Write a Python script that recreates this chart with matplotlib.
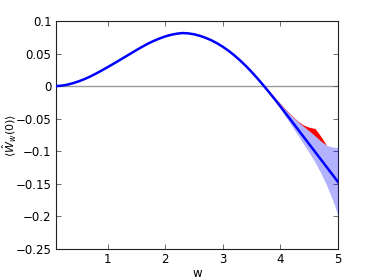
import matplotlib
matplotlib.use("Agg")
import matplotlib.pyplot as plt
from matplotlib.ticker import FuncFormatter, MultipleLocator

# w grid and estimated curve values
w = [0.1, 0.2, 0.3, 0.4, 0.5, 0.6, 0.7, 0.8, 0.9, 1.0,
     1.1, 1.2, 1.3, 1.4, 1.5, 1.6, 1.7, 1.8, 1.9, 2.0,
     2.1, 2.2, 2.3, 2.4, 2.5, 2.6, 2.7, 2.8, 2.9, 3.0,
     3.1, 3.2, 3.3, 3.4, 3.5, 3.6, 3.7, 3.8, 3.9, 4.0,
     4.1, 4.2, 4.3, 4.4, 4.5, 4.6, 4.7, 4.8, 4.9, 5.0]
mean_w = [0.0000, 0.0007, 0.0022, 0.0045, 0.0074, 0.0108, 0.0148, 0.0193, 0.0241, 0.0291,
          0.0342, 0.0394, 0.0447, 0.0500, 0.0553, 0.0604, 0.0652, 0.0694, 0.0731, 0.0763,
          0.0788, 0.0805, 0.0815, 0.0810, 0.0796, 0.0773, 0.0742, 0.0704, 0.0658, 0.0604,
          0.0542, 0.0472, 0.0394, 0.0309, 0.0217, 0.0119, 0.0016, -0.0091, -0.0201, -0.0313,
          -0.0429, -0.0545, -0.0661, -0.0777, -0.0893, -0.1009, -0.1125, -0.1241, -0.1357, -0.1473]

# uncertainty band, only from w = 3.5 onwards
w_band = [3.5, 3.6, 3.7, 3.8, 3.9, 4.0, 4.1, 4.2, 4.3, 4.4,
          4.5, 4.6, 4.7, 4.8, 4.9, 5.0]
band_hi = [0.0217, 0.0122, 0.0024, -0.0078, -0.0180, -0.0280, -0.0375, -0.0463, -0.0545, -0.0618,
           -0.0690, -0.0765, -0.0845, -0.0910, -0.0935, -0.0945]
band_lo = [0.0217, 0.0116, 0.0008, -0.0106, -0.0226, -0.0353, -0.0484, -0.0617, -0.0751, -0.0887,
           -0.1023, -0.1169, -0.1335, -0.1521, -0.1737, -0.1983]
red_hi = [0.0217, 0.0126, 0.0030, -0.0071, -0.0172, -0.0271, -0.0366, -0.0454, -0.0536, -0.0598,
          -0.0632, -0.0650, -0.0770, -0.0910, -0.0935, -0.0945]

plt.rcParams['font.size'] = 8.5

fig = plt.figure(figsize=(3.74, 2.8), dpi=100)
ax = fig.add_axes([0.149, 0.111, 0.755, 0.814])

ax.axhline(0, color='#999999', lw=1, zorder=1)
ax.fill_between(w_band, band_hi, red_hi, color='red', lw=0, zorder=2)
ax.fill_between(w_band, band_lo, band_hi, color='blue', alpha=0.3, lw=0, zorder=3)
ax.plot(w, mean_w, color='blue', lw=1.8, zorder=4)

ax.set_xlim(0.1, 5)
ax.set_ylim(-0.25, 0.1)
ax.set_xticks([1, 2, 3, 4, 5])
ax.yaxis.set_major_locator(MultipleLocator(0.05))
ax.yaxis.set_major_formatter(FuncFormatter(lambda v, p: f"{round(v, 3):g}".replace('-', '\u2212')))
ax.tick_params(direction='in', top=True, right=True, length=3.5, width=0.6, color='#555555', pad=3)
for s in ax.spines.values():
    s.set_linewidth(0.8)
    s.set_color('#222222')

ax.set_xlabel("w", labelpad=1)
ax.set_ylabel(r"$\langle \hat{W}_w(0) \rangle$", va='center', fontsize=8)
ax.yaxis.set_label_coords(-0.165, 0.5)

fig.savefig("out.png", dpi=100)
